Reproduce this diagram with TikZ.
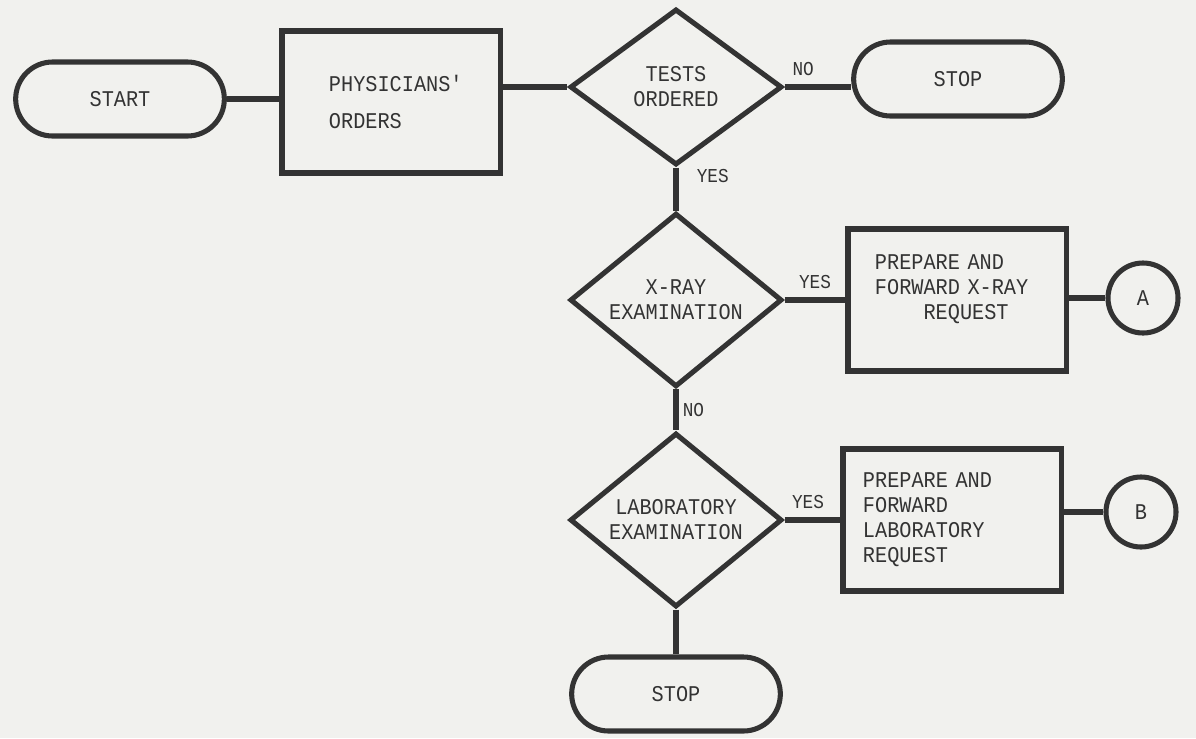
\documentclass[tikz,border=0pt]{standalone}
\usepackage{fontspec}
\newfontfamily\printfont{Liberation Mono}[FakeStretch=0.9]
\usetikzlibrary{shapes.geometric,shapes.misc}
\definecolor{paper}{RGB}{241,241,238}

\begin{document}
\begin{tikzpicture}
	[x=0.025cm,y=-0.025cm,
	 ink/.style={draw=black!80,line width=3.6pt},
	 every node/.style={text=black!80,font=\printfont\fontsize{16}{17.8}\selectfont},
	 terminal/.style={ink,rounded rectangle,minimum width=5.45cm,minimum height=1.85cm},
	 process/.style={ink,rectangle,minimum width=5.45cm,minimum height=3.55cm,align=left},
	 decision/.style={ink,diamond,minimum width=5.3cm,minimum height=3.9cm,inner sep=0pt,align=center},
	 joint/.style={ink,circle,minimum size=1.75cm},
	 flowlabel/.style={inner sep=1pt,font=\printfont\fontsize{14}{15}\selectfont},
	 uplabel/.style={flowlabel,above=5pt}]
\fill[paper] (0,0) rectangle (1196,738);
% top row
\node[terminal] (start) at (120,99) {START};
\node[process,text width=3.1cm] (orders) at (391,102) {PHYSICIANS'\\[9pt]ORDERS};
\node[decision] (tests) at (676,87) {TESTS\\ORDERED};
\node[terminal] (stop1) at (958,79) {STOP};
% x-ray branch
\node[decision] (xray) at (676,300) {X-RAY\\EXAMINATION};
\node[process,text width=4.1cm] (xreq) at (957,300)
	{PREPARE AND\\FORWARD X-RAY\\\phantom{FORW}REQUEST\\\mbox{}};
\node[joint] (ja) at (1143,298) {A};
% laboratory branch
\node[decision] (lab) at (676,520) {LABORATORY\\EXAMINATION};
\node[process,text width=4.45cm] (labreq) at (952,520)
	{PREPARE AND\\FORWARD\\LABORATORY\\REQUEST};
\node[joint] (jb) at (1141,512) {B};
\node[terminal] (stop2) at (676,694) {STOP};

\draw[ink] (start.east) -- (start.east -| orders.west);
\draw[ink] (orders.east |- tests.west) -- (tests.west);
\draw[ink] (tests.east) -- node[uplabel,pos=0.28] {NO} (stop1.west |- tests.east);
\draw[ink] (tests.south) -- node[flowlabel,right=12pt,pos=0.2] {YES} (xray.north);
\draw[ink] (xray.east) -- node[uplabel] {YES} (xreq.west |- xray.east);
\draw[ink] (xreq.east |- ja.west) -- (ja.west);
\draw[ink] (xray.south) -- node[flowlabel,right=2pt] {NO} (lab.north);
\draw[ink] (lab.east) -- node[uplabel,pos=0.42] {YES} (labreq.west |- lab.east);
\draw[ink] (labreq.east |- jb.west) -- (jb.west);
\draw[ink] (lab.south) -- (stop2.north);
\end{tikzpicture}
\end{document}
